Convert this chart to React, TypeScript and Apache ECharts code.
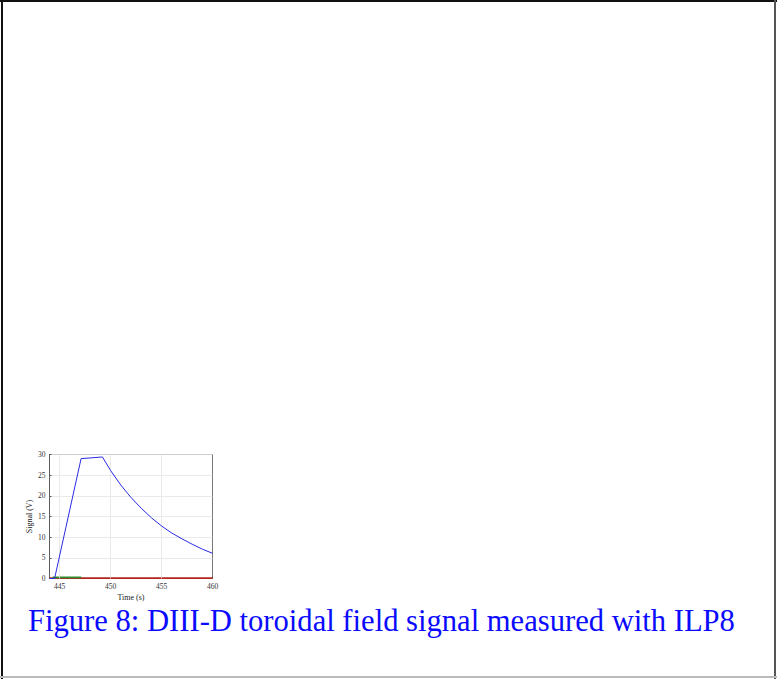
import React, { useEffect, useRef } from "react";
import * as echarts from "echarts";

const blueSignal: [number, number][] = [
  [444.0, 0], [444.5, 0], [447.1, 29.0], [449.2, 29.4], [450, 26.1], [451, 22.6],
  [452, 19.6], [453, 17.0], [454, 14.7], [455, 12.7], [456, 11.0], [457, 9.6],
  [458, 8.3], [459, 7.1], [460, 6.1],
];
const greenSignal: [number, number][] = [[444.3, 0.25], [447.1, 0.25]];
const redSignal: [number, number][] = [[444.0, 0.1], [460, 0.1]];
const xTicks = [445, 450, 455, 460];
const xGrid = [445, 450, 455];
const caption = "Figure 8: DIII-D toroidal field signal measured with ILP8";

export default function App() {
  const ref = useRef<HTMLDivElement>(null);
  useEffect(() => {
    document.body.style.margin = "0";
    const chart = echarts.init(ref.current!, null, { renderer: "svg" });
    const font = "'Liberation Serif', 'Times New Roman', serif";
    chart.setOption({
      animation: false,
      backgroundColor: "#ffffff",
      grid: {
        left: 49.5, right: 564.5, top: 454.5, bottom: 100.5,
        show: true, borderColor: "#555", borderWidth: 0.8, backgroundColor: "transparent",
      },
      xAxis: {
        type: "value", min: 444, max: 460,
        name: "Time (s)", nameLocation: "middle", nameGap: 15,
        nameTextStyle: { fontFamily: font, fontSize: 8, color: "#222" },
        axisLine: { lineStyle: { color: "#555", width: 0.8 } },
        axisTick: { inside: true, length: 2, customValues: xTicks, lineStyle: { color: "#555" } },
        axisLabel: { customValues: xTicks, fontFamily: font, fontSize: 7.5, color: "#333", margin: 4 },
        splitLine: { show: false },
      },
      yAxis: {
        type: "value", min: 0, max: 30, interval: 5,
        name: "Signal (V)", nameLocation: "middle", nameGap: 16,
        nameTextStyle: { fontFamily: font, fontSize: 8, color: "#222" },
        axisLine: { show: true, lineStyle: { color: "#555", width: 0.8 } },
        axisTick: { show: true, inside: true, length: 2, lineStyle: { color: "#555" } },
        axisLabel: { fontFamily: font, fontSize: 7.5, color: "#333", margin: 4 },
        splitLine: { show: true, lineStyle: { color: "#e4e4e4", width: 0.8 } },
      },
      series: [
        {
          type: "line", data: redSignal, showSymbol: false, z: 3,
          lineStyle: { color: "#b3261e", width: 1.6 },
          markLine: {
            silent: true, symbol: "none", label: { show: false },
            lineStyle: { color: "#e4e4e4", width: 0.8, type: "solid" },
            data: xGrid.map((v) => ({ xAxis: v })),
          },
        },
        {
          type: "line", data: greenSignal, showSymbol: false, z: 4,
          lineStyle: { color: "#2e8b2e", width: 1.8 },
        },
        {
          type: "line", data: blueSignal, showSymbol: false, z: 5,
          lineStyle: { color: "#2a2ae6", width: 1 },
        },
      ],
      graphic: [
        { type: "rect", shape: { x: 1, y: 0, width: 2, height: 679 }, style: { fill: "#111" } },
        { type: "rect", shape: { x: 0, y: 0, width: 777, height: 2 }, style: { fill: "#111" } },
        { type: "rect", shape: { x: 774, y: 0, width: 2, height: 679 }, style: { fill: "#555" } },
        { type: "rect", shape: { x: 0, y: 676, width: 777, height: 2 }, style: { fill: "#bbb" } },
        {
          type: "text", left: 28, top: 605,
          style: { text: caption, fontFamily: font, fontSize: 30.6, fill: "#0a0aff" },
        },
      ],
    });
    return () => chart.dispose();
  }, []);
  return <div ref={ref} style={{ position: "fixed", left: 0, top: 0, width: 777, height: 679 }} />;
}
